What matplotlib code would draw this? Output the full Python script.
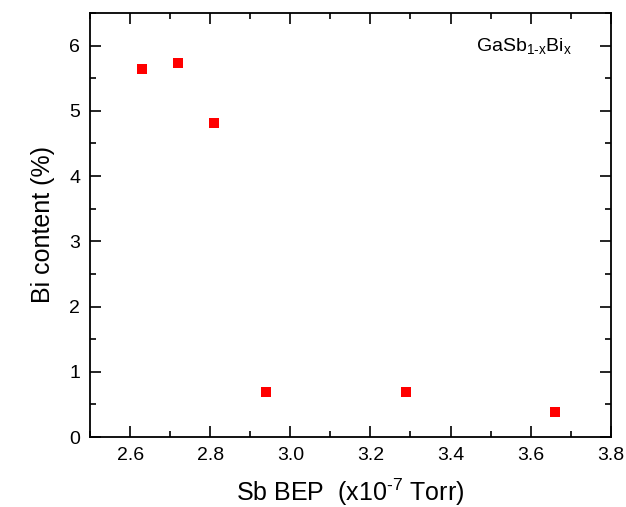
import matplotlib
matplotlib.use('Agg')
import matplotlib.pyplot as plt
from matplotlib.ticker import MultipleLocator

plt.rcParams['font.family'] = ['Liberation Sans', 'DejaVu Sans']
plt.rcParams['mathtext.fontset'] = 'custom'
plt.rcParams['mathtext.rm'] = 'Liberation Sans'

# Sb beam equivalent pressure (x1e-7 Torr) vs Bi content (%)
sb_bep = [2.63, 2.72, 2.81, 2.94, 3.29, 3.66]
bi_content = [5.64, 5.73, 4.82, 0.69, 0.69, 0.39]

fig = plt.figure(figsize=(6.26, 5.07), dpi=100)
ax = fig.add_axes([0.1438, 0.138, 0.8318, 0.8366])

ax.plot(sb_bep, bi_content, linestyle='none', marker='s', markersize=7,
        color='#ff0000', markeredgewidth=0)

ax.set_xlim(2.5, 3.8)
ax.set_ylim(0, 6.5)
ax.xaxis.set_minor_locator(MultipleLocator(0.1))
ax.yaxis.set_major_locator(MultipleLocator(1))
ax.yaxis.set_minor_locator(MultipleLocator(0.5))
ax.set_xticks([2.6, 2.8, 3.0, 3.2, 3.4, 3.6, 3.8])
ax.set_xticklabels(['2.6', '2.8', '3.0', '3.2', '3.4', '3.6', '3.8'])

ax.tick_params(which='both', direction='in', top=True, right=True,
               labelsize=14, width=1.2, pad=7)
ax.tick_params(which='major', length=8)
ax.tick_params(which='minor', length=4)
for s in ax.spines.values():
    s.set_linewidth(1.3)

ax.set_xlabel(r'Sb BEP  (x10$^{\mathrm{\text{-}7}}$ Torr)', fontsize=18, labelpad=9)
ax.set_ylabel('Bi content (%)', fontsize=18, labelpad=10)

ax.text(0.925, 0.92, r'GaSb$_{\mathrm{1\text{-}x}}$Bi$_{\mathrm{x}}$',
        transform=ax.transAxes, ha='right', va='center', fontsize=14)

plt.savefig('out.png', dpi=100)
